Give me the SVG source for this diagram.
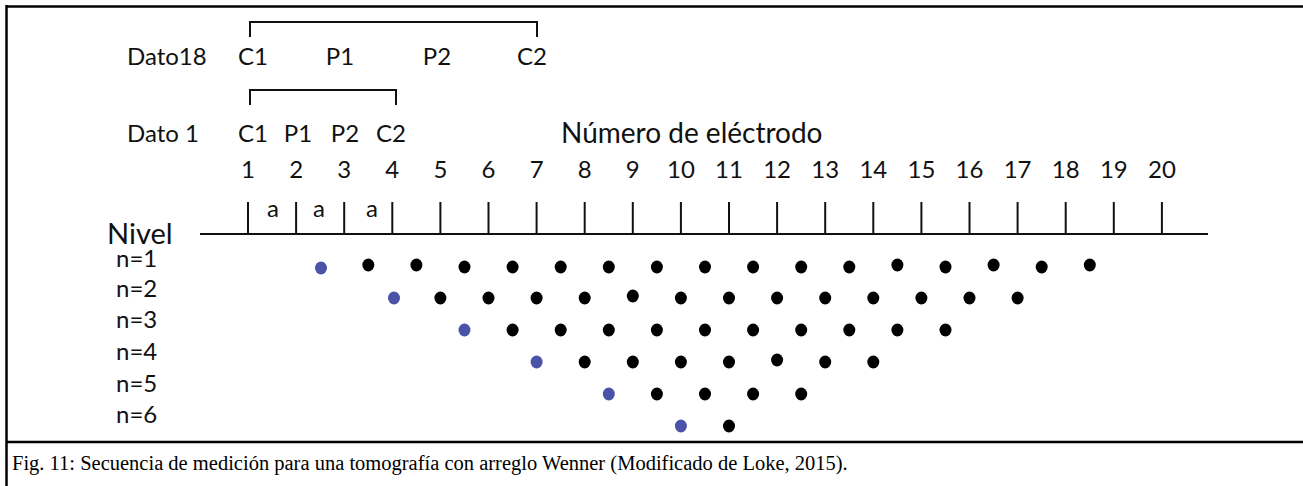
<svg xmlns="http://www.w3.org/2000/svg" width="1303" height="486" viewBox="0 0 1303 486">
<style>
.t{font-family:Lato,"Open Sans","Liberation Sans",sans-serif;fill:#111;font-size:24px}
.lbl{text-anchor:middle}
.ln{stroke:#111;stroke-width:2;fill:none}
.bd{stroke:#000;stroke-width:2.5;fill:none}
.b{fill:#000}
.u{fill:#4a53a8}
.cap{font-family:"Liberation Serif","Times New Roman",serif;font-size:20.5px;fill:#000}
</style>
<rect width="1303" height="486" fill="#fff"/>
<g id="frame">
<line class="bd" x1="6.5" y1="6.5" x2="1303" y2="6.5"/>
<line class="bd" x1="6.5" y1="5" x2="6.5" y2="486"/>
<line class="bd" x1="6" y1="442" x2="1303" y2="442"/>
</g>
<g id="dato18">
<text class="t" x="127" y="65">Dato18</text>
<path class="ln" d="M250 37 V22 H537 V37"/>
<text class="t lbl" x="253" y="65">C1</text>
<text class="t lbl" x="340" y="65">P1</text>
<text class="t lbl" x="437" y="65">P2</text>
<text class="t lbl" x="532" y="65">C2</text>
</g>
<g id="dato1">
<text class="t" x="127" y="142">Dato 1</text>
<path class="ln" d="M250 105 V90 H396 V105"/>
<text class="t lbl" x="253" y="142">C1</text>
<text class="t lbl" x="298" y="142">P1</text>
<text class="t lbl" x="345" y="142">P2</text>
<text class="t lbl" x="391" y="142">C2</text>
</g>
<g id="title">
<text class="t" x="561" y="143" style="font-size:28px">Número de eléctrodo</text>
</g>
<g id="electrodes">
<line class="ln" x1="200" y1="234" x2="1208" y2="234"/>
<g class="ln">
<line x1="248" y1="202" x2="248" y2="234"/><line x1="296.1" y1="202" x2="296.1" y2="234"/><line x1="344.2" y1="202" x2="344.2" y2="234"/><line x1="392.3" y1="202" x2="392.3" y2="234"/><line x1="440.4" y1="202" x2="440.4" y2="234"/><line x1="488.5" y1="202" x2="488.5" y2="234"/><line x1="536.6" y1="202" x2="536.6" y2="234"/><line x1="584.7" y1="202" x2="584.7" y2="234"/><line x1="632.8" y1="202" x2="632.8" y2="234"/><line x1="680.9" y1="202" x2="680.9" y2="234"/><line x1="729" y1="202" x2="729" y2="234"/><line x1="777.1" y1="202" x2="777.1" y2="234"/><line x1="825.2" y1="202" x2="825.2" y2="234"/><line x1="873.3" y1="202" x2="873.3" y2="234"/><line x1="921.4" y1="202" x2="921.4" y2="234"/><line x1="969.5" y1="202" x2="969.5" y2="234"/><line x1="1017.6" y1="202" x2="1017.6" y2="234"/><line x1="1065.7" y1="202" x2="1065.7" y2="234"/><line x1="1113.8" y1="202" x2="1113.8" y2="234"/><line x1="1161.9" y1="202" x2="1161.9" y2="234"/>
</g>
<g class="t lbl">
<text x="248" y="178">1</text><text x="296.1" y="178">2</text><text x="344.2" y="178">3</text><text x="392.3" y="178">4</text><text x="440.4" y="178">5</text><text x="488.5" y="178">6</text><text x="536.6" y="178">7</text><text x="584.7" y="178">8</text><text x="632.8" y="178">9</text><text x="680.9" y="178">10</text><text x="729" y="178">11</text><text x="777.1" y="178">12</text><text x="825.2" y="178">13</text><text x="873.3" y="178">14</text><text x="921.4" y="178">15</text><text x="969.5" y="178">16</text><text x="1017.6" y="178">17</text><text x="1065.7" y="178">18</text><text x="1113.8" y="178">19</text><text x="1161.9" y="178">20</text>
</g>
<g class="t lbl">
<text x="273" y="217">a</text><text x="319" y="217">a</text><text x="372" y="217">a</text>
</g>
</g>
<g id="levels">
<text class="t" x="107" y="244" style="font-size:29px">Nivel</text>
<text class="t" x="116" y="267">n=1</text>
<text class="t" x="116" y="297">n=2</text>
<text class="t" x="116" y="328">n=3</text>
<text class="t" x="116" y="360">n=4</text>
<text class="t" x="116" y="392">n=5</text>
<text class="t" x="116" y="423">n=6</text>
</g>
<g id="row1">
<ellipse class="u" cx="321" cy="268" rx="6" ry="6.5"/>
<g class="b">
<ellipse cx="368.3" cy="265" rx="6" ry="6.5"/><ellipse cx="416.4" cy="265" rx="6" ry="6.5"/><ellipse cx="464.5" cy="267" rx="6" ry="6.5"/><ellipse cx="512.6" cy="267" rx="6" ry="6.5"/><ellipse cx="560.7" cy="267" rx="6" ry="6.5"/><ellipse cx="608.8" cy="267" rx="6" ry="6.5"/><ellipse cx="656.9" cy="267" rx="6" ry="6.5"/><ellipse cx="705" cy="267" rx="6" ry="6.5"/><ellipse cx="753.1" cy="267" rx="6" ry="6.5"/><ellipse cx="801.2" cy="267" rx="6" ry="6.5"/><ellipse cx="849.3" cy="267" rx="6" ry="6.5"/><ellipse cx="897.4" cy="265" rx="6" ry="6.5"/><ellipse cx="945.5" cy="267" rx="6" ry="6.5"/><ellipse cx="993.6" cy="265" rx="6" ry="6.5"/><ellipse cx="1041.7" cy="267" rx="6" ry="6.5"/><ellipse cx="1089.8" cy="265" rx="6" ry="6.5"/>
</g>
</g>
<g id="row2">
<ellipse class="u" cx="394" cy="298" rx="6" ry="6.5"/>
<g class="b">
<ellipse cx="440.4" cy="298" rx="6" ry="6.5"/><ellipse cx="488.5" cy="298" rx="6" ry="6.5"/><ellipse cx="536.6" cy="298" rx="6" ry="6.5"/><ellipse cx="584.7" cy="298" rx="6" ry="6.5"/><ellipse cx="632.8" cy="296" rx="6" ry="6.5"/><ellipse cx="680.9" cy="298" rx="6" ry="6.5"/><ellipse cx="729" cy="298" rx="6" ry="6.5"/><ellipse cx="777.1" cy="298" rx="6" ry="6.5"/><ellipse cx="825.2" cy="298" rx="6" ry="6.5"/><ellipse cx="873.3" cy="298" rx="6" ry="6.5"/><ellipse cx="921.4" cy="298" rx="6" ry="6.5"/><ellipse cx="969.5" cy="298" rx="6" ry="6.5"/><ellipse cx="1017.6" cy="298" rx="6" ry="6.5"/>
</g>
</g>
<g id="row3">
<ellipse class="u" cx="464.5" cy="330" rx="6" ry="6.5"/>
<g class="b">
<ellipse cx="512.6" cy="330" rx="6" ry="6.5"/><ellipse cx="560.7" cy="330" rx="6" ry="6.5"/><ellipse cx="608.8" cy="330" rx="6" ry="6.5"/><ellipse cx="656.9" cy="330" rx="6" ry="6.5"/><ellipse cx="705" cy="330" rx="6" ry="6.5"/><ellipse cx="753.1" cy="330" rx="6" ry="6.5"/><ellipse cx="801.2" cy="330" rx="6" ry="6.5"/><ellipse cx="849.3" cy="330" rx="6" ry="6.5"/><ellipse cx="897.4" cy="330" rx="6" ry="6.5"/><ellipse cx="945.5" cy="330" rx="6" ry="6.5"/>
</g>
</g>
<g id="row4">
<ellipse class="u" cx="536.6" cy="362" rx="6" ry="6.5"/>
<g class="b">
<ellipse cx="584.7" cy="362" rx="6" ry="6.5"/><ellipse cx="632.8" cy="362" rx="6" ry="6.5"/><ellipse cx="680.9" cy="362" rx="6" ry="6.5"/><ellipse cx="729" cy="362" rx="6" ry="6.5"/><ellipse cx="777.1" cy="360" rx="6" ry="6.5"/><ellipse cx="825.2" cy="362" rx="6" ry="6.5"/><ellipse cx="873.3" cy="362" rx="6" ry="6.5"/>
</g>
</g>
<g id="row5">
<ellipse class="u" cx="608.8" cy="394" rx="6" ry="6.5"/>
<g class="b">
<ellipse cx="656.9" cy="394" rx="6" ry="6.5"/><ellipse cx="705" cy="394" rx="6" ry="6.5"/><ellipse cx="753.1" cy="394" rx="6" ry="6.5"/><ellipse cx="801.2" cy="394" rx="6" ry="6.5"/>
</g>
</g>
<g id="row6">
<ellipse class="u" cx="680.9" cy="426" rx="6" ry="6.5"/>
<ellipse class="b" cx="729" cy="426" rx="6" ry="6.5"/>
</g>
<g id="caption">
<text class="cap" x="12" y="470">Fig. 11: Secuencia de medición para una tomografía con arreglo Wenner (Modificado de Loke, 2015).</text>
</g>
</svg>
